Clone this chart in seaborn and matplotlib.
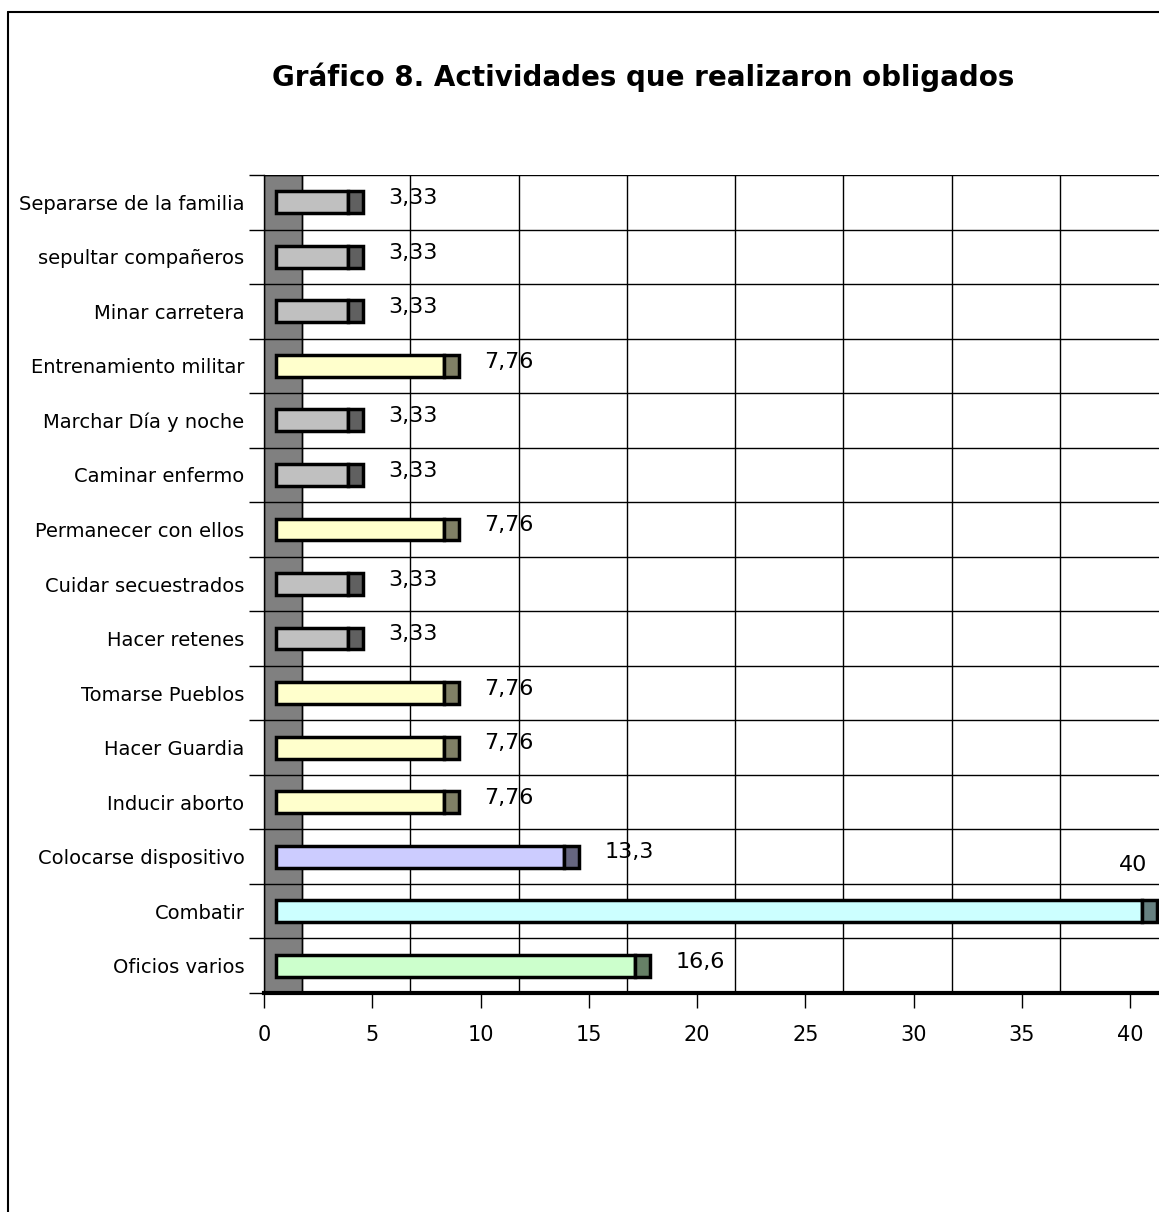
import matplotlib
matplotlib.use("Agg")
import matplotlib.pyplot as plt
from matplotlib.lines import Line2D
from matplotlib.transforms import ScaledTranslation
import seaborn as sns
import numpy as np

# data (top to bottom as in the chart)
categories = [
    "Separarse de la familia",
    "sepultar compañeros",
    "Minar carretera",
    "Entrenamiento militar",
    "Marchar Día y noche",
    "Caminar enfermo",
    "Permanecer con ellos",
    "Cuidar secuestrados",
    "Hacer retenes",
    "Tomarse Pueblos",
    "Hacer Guardia",
    "Inducir aborto",
    "Colocarse dispositivo",
    "Combatir",
    "Oficios varios",
]
values = [3.33, 3.33, 3.33, 7.76, 3.33, 3.33, 7.76, 3.33, 3.33, 7.76, 7.76, 7.76, 13.3, 40, 16.6]
x_ticks = [0, 5, 10, 15, 20, 25, 30, 35, 40]

# face colours per bar (front face); the end cap is a darker shade
front_colors = [
    "#C0C0C0", "#C0C0C0", "#C0C0C0", "#FFFFCC", "#C0C0C0", "#C0C0C0", "#FFFFCC",
    "#C0C0C0", "#C0C0C0", "#FFFFCC", "#FFFFCC", "#FFFFCC", "#CCCCFF", "#CCFFFF", "#CCFFCC",
]
title = "Gráfico 8. Actividades que realizaron obligados"


def darken(hex_color, f=0.5):
    rgb = np.array(matplotlib.colors.to_rgb(hex_color)) * f
    return tuple(rgb)


sns.set_style("white")
plt.rcParams["font.family"] = ["DejaVu Sans"]
for k in ["text.color", "axes.labelcolor", "xtick.color", "ytick.color"]:
    plt.rcParams[k] = "black"

W, H, DPI = 1159, 1212, 100
fig = plt.figure(figsize=(W / DPI, H / DPI), dpi=DPI)

x0_px, x1_px, top_px, bot_px = 264, 1159, 175, 993
ax = fig.add_axes([x0_px / W, 1 - bot_px / H, (x1_px - x0_px) / W, (bot_px - top_px) / H])
px_per_unit = 21.65

# fake 3-D depth
wall_depth = 38 / px_per_unit
bar_shift = ScaledTranslation(12 / DPI, 0, fig.dpi_scale_trans)
cap_depth = 15 / px_per_unit

# back wall
wall = ax.axvspan(0, wall_depth, facecolor="#808080", edgecolor="black", lw=1, zorder=0)

sns.barplot(x=values, y=categories, hue=categories, palette=front_colors, orient="h",
            width=0.4, saturation=1, edgecolor="black", linewidth=2.5, legend=False,
            ax=ax, zorder=2)
for p in ax.patches:
    if p is not wall:
        p.set_transform(p.get_data_transform() + bar_shift)

n = len(categories)
caps = ax.barh(np.arange(n), [cap_depth] * n, left=values, height=0.4,
               color=[darken(c) for c in front_colors], edgecolor="black", linewidth=2.5, zorder=2)
for p in caps:
    p.set_transform(p.get_data_transform() + bar_shift)

ax.set_xlim(0, (x1_px - x0_px) / px_per_unit)
ax.set_ylim(n - 0.5, -0.5)

# grid lines, shifted onto the back wall
for t in x_ticks:
    ax.plot([t + wall_depth] * 2, [0, 1], color="black", lw=1,
            transform=ax.get_xaxis_transform(), zorder=0.5)
for b in np.arange(-0.5, n, 1.0):
    ax.axhline(b, color="black", lw=1, zorder=0.5)

# value labels
xmax = ax.get_xlim()[1]
for i, v in enumerate(values):
    txt = f"{v:g}".replace(".", ",")
    end = v + cap_depth
    if end + 3 > xmax:
        ax.annotate(txt, (v, i), xytext=(2, 33), textcoords="offset points",
                    ha="center", va="center", fontsize=16)
    else:
        ax.annotate(txt, (end, i), xytext=(27, 3), textcoords="offset points",
                    ha="left", va="center", fontsize=16)

# axes styling
for s in ["top", "right"]:
    ax.spines[s].set_visible(False)
ax.spines["bottom"].set_linewidth(3)
ax.spines["bottom"].set_color("black")
ax.spines["left"].set_linewidth(1)
ax.spines["left"].set_color("black")

ax.set_xticks(x_ticks)
ax.set_xticklabels([str(t) for t in x_ticks], fontsize=15)
ax.tick_params(axis="x", direction="out", length=11, width=1, color="black", pad=12, bottom=True)
ax.set_yticks(np.arange(n))
ax.set_yticklabels(categories, fontsize=14)
ax.set_yticks(np.arange(-0.5, n, 1.0), minor=True)
ax.tick_params(axis="y", which="major", length=0, pad=14, left=True)
ax.tick_params(axis="y", which="minor", length=11, width=1, color="black", left=True)
ax.set_xlabel("")
ax.set_ylabel("")

fig.text(643 / W, 1 - 77 / H, title, ha="center", va="center", fontsize=20, fontweight="bold")

# chart border (clipped on the right and bottom in the original)
fx, fy = 8 / W, 1 - 12 / H
fig.add_artist(Line2D([fx, fx], [0, fy], color="black", lw=1.5, transform=fig.transFigure))
fig.add_artist(Line2D([fx, 1], [fy, fy], color="black", lw=1.5, transform=fig.transFigure))

fig.savefig("out.png", dpi=DPI)
